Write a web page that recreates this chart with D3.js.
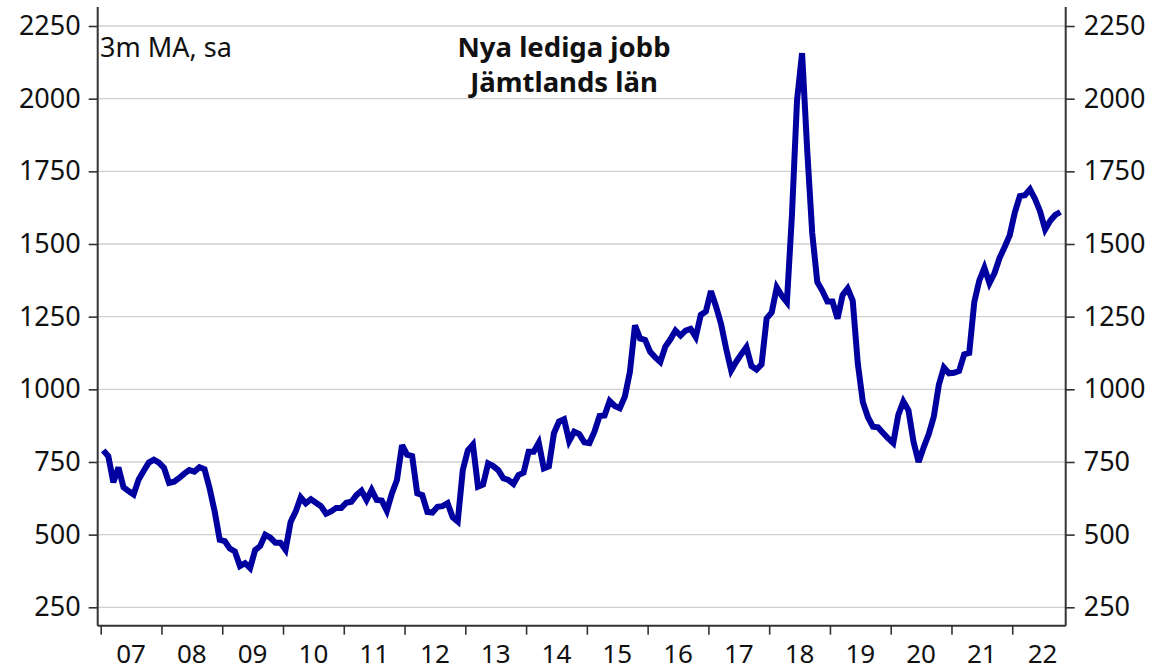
<!DOCTYPE html>
<html>
<head>
<meta charset="utf-8">
<script src="https://cdn.jsdelivr.net/npm/d3@7"></script>
<style>
  html, body { margin: 0; padding: 0; background: #fff; }
  svg { display: block; }
  text { font-family: "Noto Sans", "Open Sans", sans-serif; fill: #111; }
</style>
</head>
<body>
<svg id="chart" width="1156" height="671"></svg>
<script>
// ---- data ----
const titleLines = ["Nya lediga jobb", "Jämtlands län"];
const noteLabel = "3m MA, sa";
const startYear = 2007;   // first observation: January 2007, monthly
const values = [
  790, 770, 680, 731, 663, 650, 638, 690, 720, 748, 758, 748,      // 2007
  730, 678, 682, 695, 710, 722, 717, 732, 725, 660, 580, 482,      // 2008
  478, 452, 442, 392, 402, 385, 447, 461, 500, 490, 472, 472,      // 2009
  448, 544, 579, 628, 608, 622, 610, 598, 572, 580, 592, 592,      // 2010
  610, 613, 636, 651, 619, 654, 619, 617, 582, 642, 688, 808,      // 2011
  775, 770, 642, 636, 578, 576, 596, 598, 608, 560, 545, 722,      // 2012
  790, 810, 665, 672, 745, 736, 722, 694, 688, 674, 705, 713,      // 2013
  785, 785, 816, 728, 735, 849, 889, 897, 822, 854, 846, 818,      // 2014
  815, 854, 908, 910, 960, 943, 935, 975, 1060, 1220, 1175, 1170,  // 2015
  1129, 1110, 1094, 1147, 1172, 1202, 1185, 1202, 1208, 1180, 1256, 1268, // 2016
  1338, 1285, 1225, 1140, 1065, 1095, 1121, 1145, 1080, 1068, 1086, 1244, // 2017
  1265, 1351, 1322, 1300, 1600, 1995, 2157, 1826, 1538, 1369, 1339, 1302, // 2018
  1302, 1243, 1324, 1347, 1305, 1089, 956, 904, 871, 869, 850, 831,       // 2019
  815, 912, 958, 928, 820, 750, 800, 845, 905, 1015, 1075, 1055,          // 2020
  1057, 1063, 1120, 1125, 1300, 1375, 1418, 1365, 1400, 1452, 1490, 1530, // 2021
  1608, 1665, 1668, 1688, 1655, 1612, 1550, 1580, 1600, 1610              // 2022
];
const yTicks = [250, 500, 750, 1000, 1250, 1500, 1750, 2000, 2250];
const yearTicks = d3.range(2007, 2023);
const yearLabels = ["07","08","09","10","11","12","13","14","15","16","17","18","19","20","21","22"];

// ---- layout ----
const svg = d3.select("#chart");
const plotL = 97.7, plotR = 1065.7, plotT = 7, plotB = 625.7;

const x = d3.scaleLinear().domain([2006.9506, 2022.8795]).range([plotL, plotR]);
const y = d3.scaleLinear().domain([186.7, 2315.4]).range([plotB, plotT]);

const points = values.map((v, i) => ({ t: startYear + (i + 0.5) / 12, v }));

// gridlines
svg.append("g").selectAll("line").data(yTicks).join("line")
  .attr("x1", plotL).attr("x2", plotR)
  .attr("y1", d => y(d)).attr("y2", d => y(d))
  .attr("stroke", "#cfcfcf").attr("stroke-width", 1.3);

// left axis
const yAxisL = d3.axisLeft(y).tickValues(yTicks).tickSize(9).tickPadding(8).tickFormat(d3.format("d"));
const gL = svg.append("g").attr("transform", `translate(${plotL},0)`).call(yAxisL);
// right axis
const yAxisR = d3.axisRight(y).tickValues(yTicks).tickSize(9).tickPadding(9).tickFormat(d3.format("d"));
const gR = svg.append("g").attr("transform", `translate(${plotR},0)`).call(yAxisR);
// bottom axis
const xAxis = d3.axisBottom(x).tickValues(yearTicks).tickSize(9).tickFormat("");
const gB = svg.append("g").attr("transform", `translate(0,${plotB})`).call(xAxis);

[gL, gR, gB].forEach(g => {
  g.select(".domain").attr("stroke", "#333").attr("stroke-width", 2);
  g.selectAll(".tick line").attr("stroke", "#333").attr("stroke-width", 1.6);
  g.selectAll(".tick text").style("font-family", '"Noto Sans", sans-serif')
    .style("font-size", "27px").attr("fill", "#111");
});
gL.select(".domain").attr("d", `M0,${plotT}V${plotB}`);
gR.select(".domain").attr("d", `M0,${plotT}V${plotB}`);
gB.select(".domain").attr("d", `M${plotL},0H${plotR}`);

// year labels centered in each year
svg.append("g").selectAll("text").data(yearTicks).join("text")
  .attr("x", d => x(d + 0.5))
  .attr("y", 663)
  .attr("text-anchor", "middle")
  .style("font-size", "26px")
  .text((d, i) => yearLabels[i]);

// line
const line = d3.line().x(d => x(d.t)).y(d => y(d.v));
svg.append("path").datum(points)
  .attr("d", line)
  .attr("fill", "none")
  .attr("stroke", "#0000a0")
  .attr("stroke-width", 6)
  .attr("stroke-linejoin", "miter")
  .attr("stroke-miterlimit", 3);

// note
svg.append("text").attr("x", 100).attr("y", 57)
  .style("font-size", "27px").text(noteLabel);

// title
svg.append("g").selectAll("text").data(titleLines).join("text")
  .attr("x", 564).attr("y", (d, i) => 57 + i * 35)
  .attr("text-anchor", "middle")
  .style("font-size", "27.5px").style("font-weight", "bold")
  .text(d => d);
</script>
</body>
</html>
